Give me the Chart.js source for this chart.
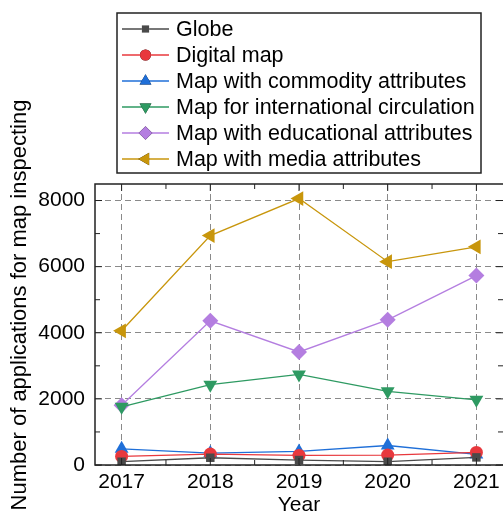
<!DOCTYPE html>
<html>
<head>
<meta charset="utf-8">
<script src="https://cdn.jsdelivr.net/npm/chart.js@4"></script>
<style>
  html, body { margin: 0; padding: 0; background: #fff; }
  #wrap { width: 503px; height: 516px; }
</style>
</head>
<body>
<div id="wrap"><canvas id="chart" width="503" height="516"></canvas></div>
<script>
const years = [2017, 2018, 2019, 2020, 2021];
const yTicks = [0, 2000, 4000, 6000, 8000];

const globe = [100, 220, 150, 100, 230];
const digitalMap = [260, 330, 290, 300, 380];
const commodity = [490, 360, 410, 590, 320];
const international = [1760, 2430, 2740, 2230, 1970];
const educational = [1810, 4360, 3420, 4390, 5730];
const media = [4060, 6940, 8060, 6150, 6600];

const FONT = '"Liberation Sans", Arial, sans-serif';

function series(label, values, color, style, rot, r) {
  return {
    label: label,
    data: years.map((y, i) => ({ x: y, y: values[i] })),
    borderColor: color,
    backgroundColor: color,
    borderWidth: 1.3,
    pointStyle: style,
    rotation: rot,
    pointRadius: r,
    pointHoverRadius: r,
    pointBorderWidth: 0,
    tension: 0
  };
}

// legend box, axis frame, minor ticks, rotated y title
const decor = {
  id: 'decor',
  afterDraw(chart) {
    const ctx = chart.ctx;
    const a = chart.chartArea;
    const xs = chart.scales.x, ys = chart.scales.y;
    ctx.save();
    ctx.strokeStyle = '#222';
    ctx.lineWidth = 1.5;
    // frame (right side runs off the canvas)
    ctx.strokeRect(a.left, a.top, a.right - a.left + 5, a.bottom - a.top);
    // x ticks inward (years + halves), bottom and top
    ctx.lineWidth = 1;
    for (let v = 2016.5; v <= 2021.5; v += 0.5) {
      const px = xs.getPixelForValue(v);
      if (px < a.left || px > a.right) continue;
      const len = Number.isInteger(v) ? 7 : 5;
      ctx.beginPath();
      ctx.moveTo(px, a.bottom); ctx.lineTo(px, a.bottom - len);
      ctx.moveTo(px, a.top); ctx.lineTo(px, a.top + len);
      ctx.stroke();
    }
    // y ticks inward every 1000
    for (let v = 0; v <= 8000; v += 1000) {
      const py = ys.getPixelForValue(v);
      const len = v % 2000 === 0 ? 7 : 5;
      ctx.beginPath();
      ctx.moveTo(a.left, py); ctx.lineTo(a.left + len, py);
      ctx.moveTo(a.right, py); ctx.lineTo(a.right - len, py);
      ctx.stroke();
    }
    // y axis title
    ctx.fillStyle = '#000';
    ctx.font = '22px ' + FONT;
    ctx.textAlign = 'center';
    ctx.textBaseline = 'middle';
    ctx.translate(20, 305);
    ctx.rotate(-Math.PI / 2);
    ctx.fillText('Number of applications for map inspecting', 0, 0);
    ctx.restore();

    // legend
    ctx.save();
    ctx.fillStyle = '#fff';
    ctx.fillRect(117, 13, 364, 160);
    ctx.strokeStyle = '#222';
    ctx.lineWidth = 1.5;
    ctx.strokeRect(117, 13, 364, 160);
    ctx.font = '21.5px ' + FONT;
    ctx.textAlign = 'left';
    ctx.textBaseline = 'middle';
    chart.data.datasets.forEach((ds, i) => {
      const cy = 29 + i * 26;
      ctx.strokeStyle = ds.borderColor;
      ctx.lineWidth = 1.3;
      ctx.beginPath();
      ctx.moveTo(122, cy); ctx.lineTo(169, cy);
      ctx.stroke();
      Chart.helpers.drawPoint(ctx, {
        pointStyle: ds.pointStyle,
        rotation: ds.rotation,
        radius: ds.pointRadius * 0.85,
        borderWidth: 0
      }, 145.5, cy);
      ctx.fillStyle = ds.borderColor;
      ctx.fill();
      ctx.fillStyle = '#000';
      ctx.fillText(ds.label, 176, cy + 1);
    });
    ctx.restore();
  }
};

new Chart(document.getElementById('chart'), {
  type: 'line',
  data: {
    datasets: [
      series('Globe', globe, '#4a4a4a', 'rect', 0, 6),
      series('Digital map', digitalMap, '#e8383d', 'circle', 0, 6.5),
      series('Map with commodity attributes', commodity, '#1f6fd8', 'triangle', 0, 8),
      series('Map for international circulation', international, '#2e9a62', 'triangle', 180, 8),
      series('Map with educational attributes', educational, '#b47ee0', 'rectRot', 0, 8),
      series('Map with media attributes', media, '#c8960c', 'triangle', -90, 8.5)
    ]
  },
  options: {
    responsive: false,
    animation: false,
    layout: { autoPadding: false, padding: { top: 184, right: 0, left: 0, bottom: 0 } },
    plugins: { legend: { display: false }, tooltip: { enabled: false } },
    scales: {
      x: {
        type: 'linear',
        min: 2016.7,
        max: 2021.3,
        afterBuildTicks: s => { s.ticks = years.map(v => ({ value: v })); },
        afterFit: s => { s.paddingLeft = 0; s.paddingRight = 0; s.height = 51; },
        grid: { color: '#8a8a8a', lineWidth: 1, drawTicks: false },
        border: { display: false, dash: [6, 4] },
        ticks: { color: '#000', font: { family: FONT, size: 21 }, padding: 5, maxRotation: 0,
                 callback: v => String(v) },
        title: { display: true, text: 'Year', color: '#000', font: { family: FONT, size: 21 }, padding: { top: -5, bottom: -2 } }
      },
      y: {
        min: 0,
        max: 8500,
        afterBuildTicks: s => { s.ticks = yTicks.map(v => ({ value: v })); },
        afterFit: s => { s.width = 95; s.paddingTop = 0; s.paddingBottom = 0; },
        grid: { color: '#8a8a8a', lineWidth: 1, drawTicks: false },
        border: { display: false, dash: [6, 4] },
        ticks: { color: '#000', font: { family: FONT, size: 21 }, padding: 10,
                 callback: v => String(v) }
      }
    }
  },
  plugins: [decor]
});
</script>
</body>
</html>
